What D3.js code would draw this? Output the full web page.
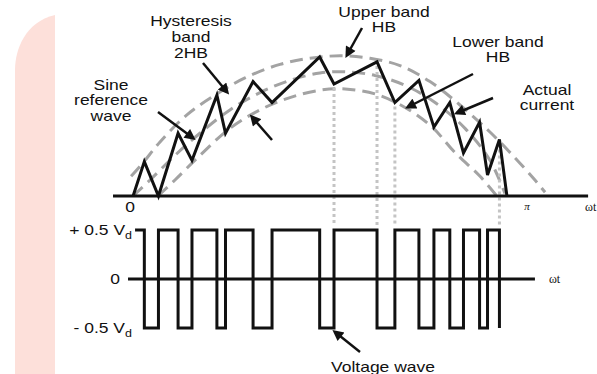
<!DOCTYPE html>
<html>
<head>
<meta charset="utf-8">
<script src="https://cdn.jsdelivr.net/npm/d3@7"></script>
<style>
  body { margin: 0; background: #fff; }
  svg { display: block; }
  text { font-family: "Liberation Sans", Arial, Helvetica, sans-serif; fill: #111; }
</style>
</head>
<body>
<svg id="chart" width="597" height="374"></svg>
<script>
// ---- data (ωt in degrees, current in A, voltage in Vd) ----
const switchAngles   = [6.5, 12.9, 21.8, 28.1, 39.4, 43.3, 55.8, 64.4, 86.0, 92.5,
                        112.0, 120.1, 131.0, 137.8, 145.0, 151.2, 158.5, 162.1, 167.5];
const currentAtSwitch = [2.8, 0.0, 5.1, 2.9, 8.2, 5.1, 9.3, 7.6, 11.3, 9.1,
                         10.9, 7.6, 9.4, 5.6, 7.6, 3.5, 6.0, 1.7, 4.6];
const currentStart = [1.4, 0];
const currentEnd   = [170.9, 0];
const voltageStart = 2.3;
const voltageLevels = [0.5, -0.5];
const guideSwitches = [9, 10, 11, 18];

const sineRef = [[1.4, 0], [9.1, 1.3], [20.4, 3.3], [31.7, 5.1], [45.3, 7.0], [58.9, 8.4],
                 [72.5, 9.4], [86.1, 10.0], [97.5, 10.1], [111.1, 9.8], [124.7, 9.0],
                 [138.3, 7.6], [151.9, 5.5], [163.2, 2.9], [170.0, 0.2]];
const upperBand = [[0.5, 1.6], [5.9, 2.7], [13.6, 4.4], [25.8, 6.6], [38.5, 8.2], [52.1, 9.6],
                   [68.0, 10.7], [81.6, 11.2], [95.2, 11.4], [108.8, 11.2], [122.4, 10.6],
                   [136.0, 9.3], [149.6, 7.4], [163.2, 5.2], [174.6, 3.1], [183.6, 1.3], [188.2, 0.3]];
const lowerBand = [[12.7, 0], [20.4, 1.3], [31.7, 3.3], [45.3, 5.5], [58.9, 7.0], [72.5, 8.0],
                   [86.1, 8.6], [97.5, 8.7], [111.1, 8.3], [124.7, 7.2], [137.0, 5.6],
                   [147.0, 3.6], [158.7, 1.6], [166.3, 0]];

const angleTicks = [{v: 0, label: "0"}, {v: 180, label: "π"}];
const voltageTicks = [{v: 0.5, label: "+ 0.5 V", sub: "d"}, {v: 0, label: "0"}, {v: -0.5, label: "- 0.5 V", sub: "d"}];
const currentAxisSpan = [-7.7, 207.7];
const voltageAxisSpan = [-0.9, 183.6];

// ---- setup ----
const svg = d3.select('#chart');

// pink strip on the left
svg.append('path')
  .attr('d', 'M15,374 V70 C15,50 25,22 55,15 V374 Z')
  .attr('fill', '#fde0da');

const x = d3.scaleLinear().domain([0, 180]).range([130, 527]);
const yI = d3.scaleLinear().domain([0, 10]).range([196, 73]);
const yV = d3.scaleLinear().domain([-0.5, 0.5]).range([328, 230]);

svg.append('defs').append('marker')
  .attr('id', 'head')
  .attr('viewBox', '0 0 10 10')
  .attr('refX', 7).attr('refY', 5)
  .attr('markerWidth', 13).attr('markerHeight', 11)
  .attr('markerUnits', 'userSpaceOnUse')
  .attr('orient', 'auto')
  .append('path').attr('d', 'M0,0 L10,5 L0,10 Z').attr('fill', '#111');

// bands (dashed gray)
const bandLine = d3.line()
  .x(d => x(d[0]))
  .y(d => yI(d[1]))
  .curve(d3.curveCatmullRom);

[upperBand, sineRef, lowerBand].forEach(b => {
  svg.append('path')
    .datum(b)
    .attr('fill', 'none')
    .attr('stroke', '#a3a3a3')
    .attr('stroke-width', 3)
    .attr('stroke-dasharray', '13,7')
    .attr('d', bandLine);
});

// dotted guides from current to voltage wave
svg.selectAll('.guide')
  .data(guideSwitches)
  .enter().append('line')
    .attr('class', 'guide')
    .attr('x1', i => x(switchAngles[i]))
    .attr('x2', i => x(switchAngles[i]))
    .attr('y1', i => yI(currentAtSwitch[i]) + 4)
    .attr('y2', yV(0.5) - 4)
    .attr('stroke', '#c4c4c4')
    .attr('stroke-width', 3)
    .attr('stroke-dasharray', '3,3');

// current axis
svg.append('line')
  .attr('x1', x(currentAxisSpan[0])).attr('x2', x(currentAxisSpan[1]))
  .attr('y1', yI(0)).attr('y2', yI(0))
  .attr('stroke', '#111').attr('stroke-width', 3);

// actual current
const currentPts = [currentStart]
  .concat(switchAngles.map((a, i) => [a, currentAtSwitch[i]]))
  .concat([currentEnd]);

svg.append('path')
  .datum(currentPts)
  .attr('fill', 'none')
  .attr('stroke', '#111')
  .attr('stroke-width', 3)
  .attr('stroke-linejoin', 'miter')
  .attr('d', d3.line().x(d => x(d[0])).y(d => yI(d[1])));

// voltage axis
svg.append('line')
  .attr('x1', x(voltageAxisSpan[0])).attr('x2', x(voltageAxisSpan[1]))
  .attr('y1', yV(0)).attr('y2', yV(0))
  .attr('stroke', '#111').attr('stroke-width', 3);

// voltage wave
const voltPts = [[voltageStart, voltageLevels[0]]]
  .concat(switchAngles.map((a, i) => [a, voltageLevels[(i + 1) % 2]]));

svg.append('path')
  .datum(voltPts)
  .attr('fill', 'none')
  .attr('stroke', '#111')
  .attr('stroke-width', 3)
  .attr('d', d3.line().x(d => x(d[0])).y(d => yV(d[1])).curve(d3.curveStepAfter));

// ---- text ----
function addLabel(px, py, lines, anchor = 'middle', lh = 16) {
  const t = svg.append('g')
    .attr('transform', `translate(${px},${py}) scale(1.25,1)`)
    .append('text')
    .attr('text-anchor', anchor)
    .style('font-size', '14px');
  lines.forEach((s, i) => t.append('tspan').attr('x', 0).attr('y', i * lh).text(s));
  return t;
}

addLabel(191, 26, ['Hysteresis', 'band', '2HB']);
addLabel(111, 90, ['Sine', 'reference', 'wave'], 'middle', 15.5);
addLabel(384, 17, ['Upper band', 'HB'], 'middle', 15);
addLabel(498, 47, ['Lower band', 'HB'], 'middle', 15);
addLabel(547, 95, ['Actual', 'current'], 'middle', 15);
addLabel(383, 372, ['Voltage wave']);

// angle tick labels
addLabel(x(angleTicks[0].v), yI(0) + 16, [angleTicks[0].label]);
svg.append('text')
  .attr('x', x(angleTicks[1].v)).attr('y', yI(0) + 14)
  .attr('text-anchor', 'middle')
  .style('font-family', '"Liberation Serif", "DejaVu Serif", serif')
  .style('font-style', 'italic')
  .style('font-size', '11px')
  .text(angleTicks[1].label);

svg.append('text')
  .attr('x', x(currentAxisSpan[1]) - 3).attr('y', yI(0) + 15)
  .style('font-family', '"Liberation Serif", "DejaVu Serif", serif')
  .style('font-size', '12px')
  .text('ωt');
svg.append('text')
  .attr('x', x(voltageAxisSpan[1]) + 14).attr('y', yV(0) + 4)
  .style('font-family', '"Liberation Serif", "DejaVu Serif", serif')
  .style('font-size', '12px')
  .text('ωt');

// voltage tick labels
voltageTicks.forEach(t => {
  const lab = addLabel(t.sub ? 132 : 120, yV(t.v) + 5, [t.label], 'end');
  if (t.sub) {
    lab.select('tspan').append('tspan')
      .attr('dy', 4).style('font-size', '10px').text(t.sub);
  }
});
// short lead-in on the +0.5 level
svg.append('line')
  .attr('x1', 135).attr('x2', x(voltageStart))
  .attr('y1', yV(0.5)).attr('y2', yV(0.5))
  .attr('stroke', '#111').attr('stroke-width', 3);

// ---- arrows ----
const arrows = [
  [203, 63, 227, 92],
  [158, 112, 193, 138],
  [272, 140, 252, 117],
  [362, 28, 347, 55],
  [473, 74, 408, 107],
  [493, 98, 457, 113],
  [360, 352, 335, 332]
];
svg.selectAll('.arrow')
  .data(arrows)
  .enter().append('line')
    .attr('class', 'arrow')
    .attr('x1', d => d[0]).attr('y1', d => d[1])
    .attr('x2', d => d[2]).attr('y2', d => d[3])
    .attr('stroke', '#111')
    .attr('stroke-width', 2.5)
    .attr('marker-end', 'url(#head)');
</script>
</body>
</html>
